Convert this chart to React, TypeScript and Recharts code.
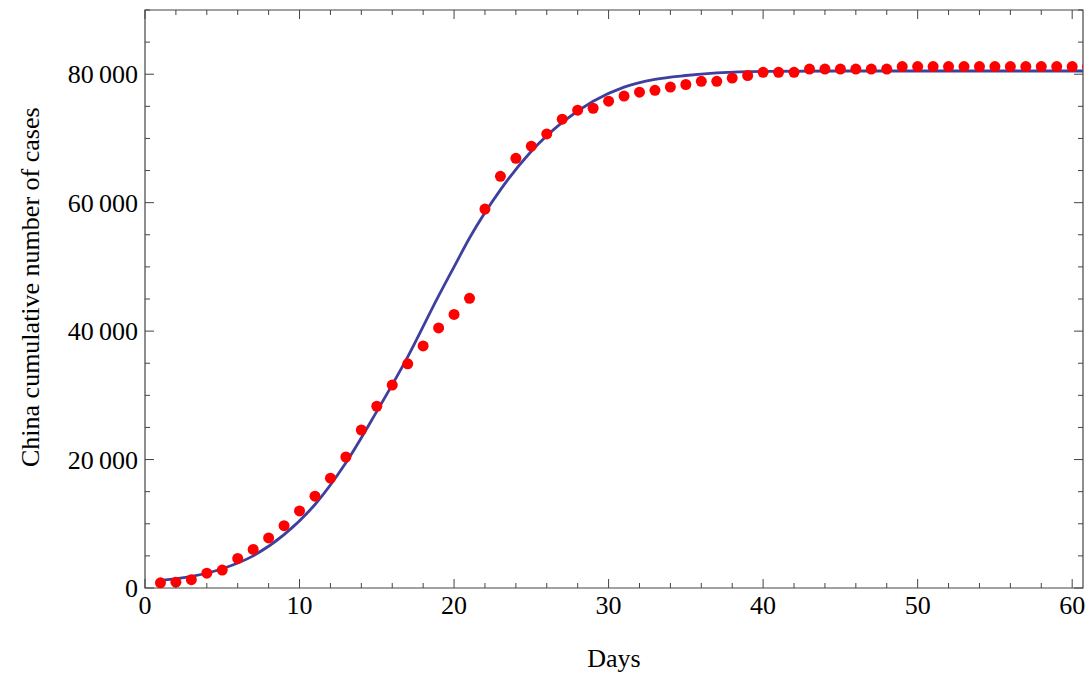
import { ComposedChart, Line, Scatter, XAxis, YAxis, ReferenceArea } from "recharts";

const DAYS = Array.from({ length: 61 }, (_, i) => i + 1);
const CASES = [
  800, 900, 1300, 2300, 2800, 4600, 6000, 7800, 9700, 12000,
  14300, 17100, 20400, 24600, 28300, 31600, 34900, 37700, 40500, 42600,
  45100, 59000, 64100, 66900, 68800, 70700, 73000, 74400, 74700, 75800,
  76600, 77200, 77500, 78000, 78400, 78900, 78900, 79400, 79800, 80300,
  80300, 80300, 80800, 80800, 80800, 80800, 80800, 80800, 81200, 81200,
  81200, 81200, 81200, 81200, 81200, 81200, 81200, 81200, 81200, 81200, 81200,
];
const FIT_DAYS = [1, 3, 5, 7, 9, 11, 13, 15, 17, 19, 20, 21, 23, 25, 27, 29, 31, 33, 35, 37, 40, 45, 50, 55, 61];
const FIT_VALUES = [1200, 1800, 3000, 5000, 8300, 13000, 19500, 27500, 36000, 45500, 50000, 54500, 62000, 68000, 72500, 75800, 78000, 79200, 79800, 80200, 80450, 80500, 80500, 80500, 80500];
const X_TICKS = [0, 2, 4, 6, 8, 10, 12, 14, 16, 18, 20, 22, 24, 26, 28, 30, 32, 34, 36, 38, 40, 42, 44, 46, 48, 50, 52, 54, 56, 58, 60];
const Y_TICKS = Array.from({ length: 19 }, (_, i) => i * 5000);

const points = DAYS.map((d, i) => ({ day: d, cases: CASES[i] }));
const fit = FIT_DAYS.map((d, i) => ({ day: d, fit: FIT_VALUES[i] }));

const TOP = 10, BOTTOM = 588, LEFT = 145, RIGHT = 1083;
const FONT = "'Liberation Serif', 'DejaVu Serif', serif";
const fmt = (v: number) => (v >= 1000 ? `${Math.floor(v / 1000)}\u2009${String(v % 1000).padStart(3, "0")}` : `${v}`);

const XTick = (p: any) => {
  const v = p.payload.value;
  const major = v % 10 === 0;
  const len = major ? 9 : 5;
  return (
    <g>
      <line x1={p.x} x2={p.x} y1={BOTTOM} y2={BOTTOM - len} stroke="#444" />
      <line x1={p.x} x2={p.x} y1={TOP} y2={TOP + len} stroke="#444" />
      {major && (
        <text x={p.x} y={BOTTOM + 26} textAnchor="middle" fontSize={26} fontFamily={FONT} fill="#000">{v}</text>
      )}
    </g>
  );
};

const YTick = (p: any) => {
  const v = p.payload.value;
  const major = v % 20000 === 0;
  const len = major ? 9 : 5;
  return (
    <g>
      <line x1={LEFT} x2={LEFT + len} y1={p.y} y2={p.y} stroke="#444" />
      <line x1={RIGHT} x2={RIGHT - len} y1={p.y} y2={p.y} stroke="#444" />
      {major && (
        <text x={LEFT - 7} y={p.y + 9} textAnchor="end" fontSize={26} fontFamily={FONT} fill="#000">{fmt(v)}</text>
      )}
    </g>
  );
};

export default function App() {
  return (
    <div style={{ position: "fixed", left: 0, top: 0, background: "#fff", width: 1085, height: 675 }}>
      <ComposedChart width={1085} height={675} margin={{ top: TOP, right: 2, bottom: 0, left: 0 }}>
        <XAxis
          type="number" dataKey="day" domain={[0, 60.7]} ticks={X_TICKS} interval={0}
          height={87} axisLine={false} tickLine={false} tick={<XTick />}
          label={{ value: "Days", position: "insideBottom", offset: 8, fontSize: 26, fontFamily: FONT, fill: "#000" }}
          allowDataOverflow
        />
        <YAxis
          type="number" domain={[0, 90000]} ticks={Y_TICKS} interval={0}
          width={145} axisLine={false} tickLine={false} tick={<YTick />}
          label={{ value: "China cumulative number of cases", angle: -90, position: "insideLeft", offset: 30, dy: 168, fontSize: 26, fontFamily: FONT, fill: "#000" }}
        />
        <ReferenceArea x1={0} x2={60.7} y1={0} y2={90000} fill="none" stroke="#444" strokeWidth={1.2} ifOverflow="extendDomain" />
        <Line data={fit} dataKey="fit" type="monotone" stroke="#3f3f9f" strokeWidth={2.8} dot={false} isAnimationActive={false} />
        <Scatter data={points} dataKey="cases" fill="#ff0000" shape={(p: any) => <circle cx={p.cx} cy={p.cy} r={5.5} fill="#ff0000" />} isAnimationActive={false} />
      </ComposedChart>
    </div>
  );
}
